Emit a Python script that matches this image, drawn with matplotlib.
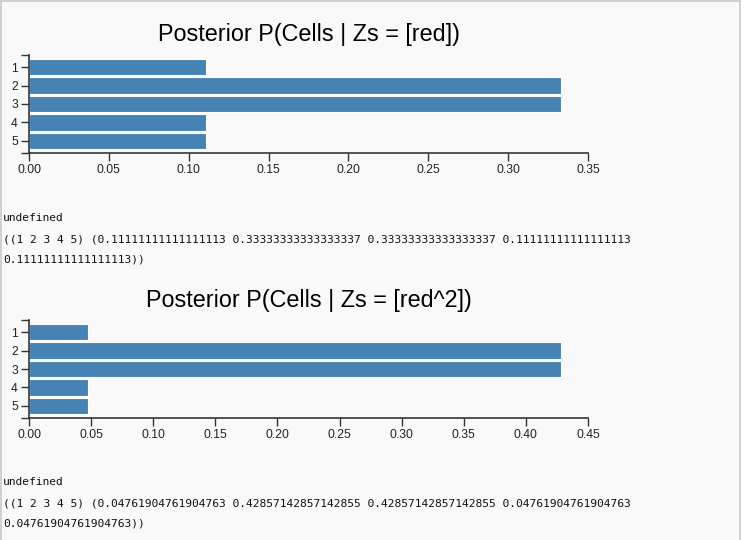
import matplotlib
matplotlib.use("Agg")
from matplotlib import pyplot as plt
from matplotlib.patches import Rectangle

W, H = 744, 540
BAR_COLOR = "#4682b4"
AXIS_COLOR = "#333333"

cells = ["1", "2", "3", "4", "5"]

title1 = "Posterior P(Cells | Zs = [red])"
probs1 = [0.11111111111111113, 0.33333333333333337, 0.33333333333333337,
          0.11111111111111113, 0.11111111111111113]
ticks1 = [0.00, 0.05, 0.10, 0.15, 0.20, 0.25, 0.30, 0.35]
lines1 = ["undefined",
          "((1 2 3 4 5) (0.11111111111111113 0.33333333333333337 0.33333333333333337 0.11111111111111113",
          "0.11111111111111113))"]

title2 = "Posterior P(Cells | Zs = [red^2])"
probs2 = [0.04761904761904763, 0.42857142857142855, 0.42857142857142855,
          0.04761904761904763, 0.04761904761904763]
ticks2 = [0.00, 0.05, 0.10, 0.15, 0.20, 0.25, 0.30, 0.35, 0.40, 0.45]
lines2 = ["undefined",
          "((1 2 3 4 5) (0.04761904761904763 0.42857142857142855 0.42857142857142855 0.04761904761904763",
          "0.04761904761904763))"]


def px(x, y):
    # pixel position (from top-left) -> figure fraction
    return x / W, 1 - y / H


def drawBarChart(fig, top, title, probs, ticks, titleY):
    left, right, bottom = 29, 588, top + 98
    x0, y0 = px(left, bottom)
    ax = fig.add_axes([x0, y0, (right - left) / W, 98 / H])
    ax.set_facecolor("none")

    pos = list(range(len(cells)))
    ax.barh(pos, probs, height=0.9, color=BAR_COLOR, edgecolor="white", linewidth=0.8)
    pad = 0.66
    ax.set_ylim(len(cells) - 1 + pad, -pad)
    ax.set_xlim(ticks[0], ticks[-1])

    ax.set_yticks(pos)
    ax.set_yticklabels(cells)
    ax.set_yticks([-pad, len(cells) - 1 + pad], minor=True)
    ax.set_xticks(ticks)
    ax.set_xticklabels(["%.2f" % t for t in ticks])

    for side in ["top", "right"]:
        ax.spines[side].set_visible(False)
    for side in ["left", "bottom"]:
        ax.spines[side].set_color(AXIS_COLOR)
        ax.spines[side].set_linewidth(1.2)
    ax.tick_params(which="both", length=6, width=1, color=AXIS_COLOR,
                   labelsize=8.7, labelcolor="#222222", pad=2)
    ax.tick_params(axis="y", which="minor", length=6)

    tx, ty = px((left + right) / 2, titleY)
    fig.text(tx, ty, title, ha="center", va="center", fontsize=16.8,
             family="Liberation Sans", color="black")
    return ax


def drawText(fig, lines, ys):
    for s, y in zip(lines, ys):
        tx, ty = px(3, y)
        fig.text(tx, ty, s, ha="left", va="center", fontsize=8.1,
                 family="DejaVu Sans Mono", color="#111111")


plt.rcParams["font.family"] = ["Liberation Sans", "DejaVu Sans"]
fig = plt.figure(figsize=(W / 100, H / 100), dpi=100)
fig.patch.set_facecolor("white")

# panel background with border
fig.patches.append(Rectangle((1 / W, -0.01), 739 / W, 1 - 1 / H + 0.01,
                             transform=fig.transFigure, facecolor="#f9f9f9",
                             edgecolor="#c8c8c8", linewidth=1.2, zorder=-1))

drawBarChart(fig, 55, title1, probs1, ticks1, 35)
drawText(fig, lines1, [218, 239, 259])

drawBarChart(fig, 320, title2, probs2, ticks2, 300)
drawText(fig, lines2, [482, 503, 524])

fig.savefig("out.png", dpi=100, facecolor=fig.get_facecolor())
